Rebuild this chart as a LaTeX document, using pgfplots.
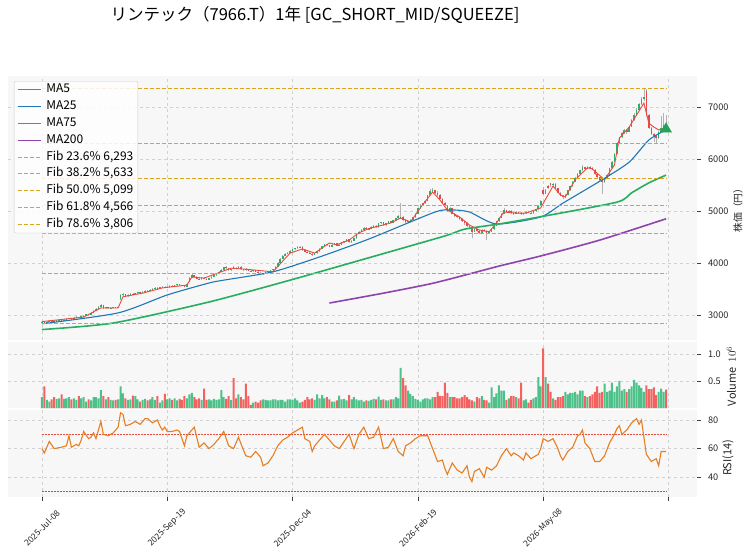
\documentclass[border=0pt]{standalone}
\usepackage{fontspec}
\setmainfont{Noto Sans CJK JP}
\usepackage{pgfplots}
\usepackage{pgfplotstable}
\usetikzlibrary{calc}
\pgfplotsset{compat=1.18}
\definecolor{ma5c}{HTML}{E74C3C}
\definecolor{ma25c}{HTML}{1F77B4}
\definecolor{ma75c}{HTML}{27AE60}
\definecolor{ma200c}{HTML}{8E44AD}
\definecolor{fibc}{HTML}{DAA520}
\definecolor{upc}{HTML}{2EAD6B}
\definecolor{dnc}{HTML}{E8474B}
\definecolor{volg}{HTML}{4EC08A}
\definecolor{volr}{HTML}{F4625F}
\definecolor{rsic}{HTML}{E67E22}
\definecolor{r30c}{HTML}{2E86AB}
\definecolor{trgc}{HTML}{27A05A}
\pgfplotstableread{
i o h l c v
0 2850 2890 2840 2860 0.20
1 2860 2875 2838 2845 0.40
2 2845 2880 2840 2870 0.15
3 2870 2900 2860 2890 0.12
4 2890 2905 2870 2880 0.16
5 2880 2895 2860 2870 0.20
6 2870 2905 2865 2895 0.17
7 2895 2920 2885 2905 0.18
8 2905 2915 2880 2890 0.25
9 2890 2920 2885 2910 0.17
10 2910 2935 2900 2925 0.18
11 2925 2950 2915 2935 0.20
12 2935 2945 2910 2920 0.16
13 2920 2955 2915 2945 0.18
14 2945 2975 2935 2960 0.15
15 2960 2970 2940 2950 0.22
16 2950 2985 2945 2975 0.18
17 2975 3000 2965 2990 0.20
18 2990 3020 2980 3010 0.12
19 3010 3025 2990 3000 0.16
20 3000 3050 2995 3040 0.14
21 3040 3090 3030 3080 0.20
22 3080 3130 3070 3120 0.20
23 3120 3165 3110 3150 0.18
24 3150 3210 3130 3190 0.33
25 3190 3200 3120 3130 0.22
26 3130 3160 3120 3145 0.16
27 3145 3155 3115 3125 0.20
28 3125 3145 3110 3135 0.15
29 3135 3160 3125 3150 0.14
30 3150 3160 3130 3140 0.15
31 3140 3170 3130 3160 0.16
32 3300 3400 3290 3380 0.40
33 3380 3420 3360 3400 0.27
34 3400 3410 3350 3360 0.18
35 3360 3400 3350 3390 0.15
36 3390 3420 3380 3410 0.16
37 3410 3420 3385 3395 0.23
38 3395 3430 3390 3420 0.22
39 3420 3450 3410 3440 0.16
40 3440 3450 3415 3425 0.12
41 3425 3460 3420 3450 0.15
42 3450 3480 3440 3470 0.17
43 3470 3480 3450 3460 0.14
44 3460 3500 3455 3490 0.16
45 3490 3520 3480 3505 0.20
46 3505 3535 3495 3520 0.15
47 3520 3530 3490 3500 0.22
48 3500 3540 3495 3530 0.10
49 3530 3560 3520 3545 0.14
50 3545 3555 3515 3525 0.26
51 3525 3550 3520 3540 0.16
52 3540 3570 3530 3560 0.18
53 3560 3570 3540 3550 0.15
54 3550 3580 3540 3570 0.18
55 3570 3600 3560 3590 0.14
56 3590 3600 3565 3575 0.17
57 3575 3585 3550 3560 0.15
58 3560 3570 3530 3540 0.22
59 3540 3610 3535 3600 0.18
60 3640 3740 3630 3720 0.25
61 3720 3780 3710 3760 0.28
62 3760 3770 3730 3740 0.20
63 3740 3750 3690 3700 0.16
64 3700 3720 3680 3690 0.18
65 3690 3730 3680 3720 0.15
66 3720 3730 3690 3700 0.36
67 3700 3710 3670 3680 0.15
68 3680 3720 3675 3710 0.16
69 3710 3750 3700 3740 0.14
70 3740 3770 3730 3760 0.17
71 3760 3800 3750 3790 0.15
72 3790 3840 3780 3830 0.16
73 3830 3880 3820 3870 0.33
74 3870 3930 3860 3920 0.20
75 3920 3940 3890 3900 0.17
76 3900 3910 3850 3860 0.22
77 3860 3890 3850 3880 0.15
78 3930 3940 3880 3910 0.55
79 3910 3920 3885 3895 0.18
80 3895 3940 3890 3930 0.25
81 3930 3940 3870 3880 0.20
82 3880 3890 3850 3860 0.16
83 3890 3900 3850 3870 0.45
84 3870 3880 3840 3850 0.22
85 3850 3860 3830 3840 0.06
86 3840 3870 3835 3860 0.10
87 3860 3865 3820 3830 0.12
88 3830 3840 3800 3810 0.10
89 3810 3820 3780 3790 0.14
90 3790 3810 3770 3800 0.16
91 3800 3830 3795 3820 0.15
92 3820 3850 3810 3840 0.14
93 3840 3870 3830 3860 0.14
94 3860 3890 3850 3880 0.16
95 3880 3940 3875 3930 0.16
96 3930 4010 3920 4000 0.14
97 4000 4090 3990 4080 0.15
98 4080 4150 4070 4140 0.15
99 4140 4190 4130 4180 0.12
100 4180 4215 4170 4200 0.16
101 4200 4245 4190 4230 0.16
102 4230 4275 4220 4260 0.15
103 4260 4295 4250 4280 0.18
104 4280 4320 4270 4300 0.14
105 4300 4330 4290 4310 0.10
106 4310 4320 4240 4250 0.12
107 4250 4260 4210 4220 0.15
108 4220 4235 4190 4200 0.20
109 4200 4210 4170 4180 0.16
110 4180 4190 4140 4160 0.18
111 4160 4200 4150 4190 0.15
112 4190 4240 4180 4230 0.25
113 4230 4280 4220 4270 0.18
114 4270 4330 4260 4320 0.24
115 4320 4370 4310 4360 0.18
116 4360 4370 4330 4340 0.20
117 4340 4350 4300 4310 0.16
118 4310 4360 4300 4350 0.12
119 4350 4390 4340 4380 0.12
120 4380 4390 4320 4330 0.14
121 4330 4360 4320 4350 0.23
122 4350 4410 4340 4400 0.16
123 4400 4430 4390 4420 0.17
124 4420 4470 4410 4460 0.14
125 4460 4470 4390 4400 0.24
126 4400 4440 4390 4430 0.16
127 4430 4490 4420 4480 0.20
128 4480 4570 4470 4560 0.16
129 4560 4610 4550 4600 0.14
130 4600 4650 4590 4640 0.15
131 4640 4695 4630 4680 0.12
132 4680 4690 4640 4650 0.14
133 4650 4670 4635 4660 0.13
134 4660 4710 4650 4700 0.15
135 4700 4735 4690 4720 0.17
136 4720 4730 4680 4690 0.16
137 4690 4770 4680 4760 0.21
138 4760 4790 4750 4780 0.15
139 4780 4790 4720 4730 0.16
140 4730 4770 4720 4760 0.14
141 4760 4810 4750 4800 0.14
142 4800 4810 4760 4770 0.16
143 4770 4830 4760 4820 0.16
144 4820 4870 4810 4860 0.20
145 4860 4920 4850 4900 0.18
146 4850 5150 4840 4880 0.74
147 4880 4900 4810 4820 0.55
148 4820 4840 4770 4780 0.42
149 4780 4810 4760 4800 0.32
150 4800 4840 4790 4830 0.26
151 4830 4890 4820 4880 0.22
152 4880 4960 4870 4950 0.17
153 4950 5060 4940 5050 0.15
154 5050 5130 5040 5120 0.12
155 5120 5160 5100 5150 0.16
156 5150 5210 5140 5200 0.18
157 5200 5310 5190 5300 0.18
158 5300 5420 5290 5380 0.16
159 5380 5440 5360 5400 0.20
160 5400 5410 5330 5350 0.20
161 5350 5380 5290 5300 0.30
162 5300 5320 5230 5240 0.22
163 5240 5250 5140 5150 0.22
164 5150 5170 5090 5100 0.47
165 5100 5110 4980 5000 0.28
166 5000 5080 4990 5050 0.20
167 5050 5060 4940 4950 0.20
168 4950 4970 4890 4900 0.20
169 4900 4920 4860 4880 0.18
170 4880 4890 4830 4850 0.18
171 4850 4860 4780 4800 0.20
172 4800 4810 4740 4760 0.24
173 4760 4780 4700 4720 0.20
174 4720 4730 4670 4690 0.16
175 4690 4700 4480 4600 0.14
176 4600 4670 4590 4650 0.12
177 4650 4660 4600 4620 0.20
178 4620 4630 4560 4580 0.18
179 4580 4650 4570 4640 0.22
180 4640 4650 4600 4620 0.15
181 4620 4630 4450 4570 0.14
182 4570 4610 4560 4600 0.10
183 4600 4660 4590 4650 0.38
184 4650 4730 4640 4720 0.20
185 4720 4810 4710 4800 0.27
186 4800 4880 4790 4870 0.42
187 4870 4960 4860 4950 0.32
188 4950 5050 4940 5010 0.32
189 5010 5020 4970 4990 0.15
190 4990 5020 4980 5000 0.18
191 5000 5010 4950 4960 0.22
192 4960 4980 4930 4950 0.22
193 4950 4995 4940 4980 0.20
194 4980 4990 4950 4970 0.18
195 4970 4980 4930 4940 0.47
196 4940 4970 4930 4960 0.14
197 4960 5000 4950 4990 0.16
198 4990 5000 4960 4970 0.10
199 4970 4985 4950 4960 0.15
200 4960 5010 4950 5000 0.18
201 5000 5040 4990 5030 0.20
202 5030 5110 5020 5100 0.57
203 5100 5220 5090 5200 0.40
204 5400 5460 5300 5330 1.10
205 5330 5420 5320 5400 0.57
206 5480 5500 5420 5450 0.45
207 5530 5540 5470 5500 0.30
208 5500 5540 5480 5520 0.18
209 5520 5530 5430 5440 0.15
210 5440 5450 5340 5350 0.20
211 5350 5360 5280 5290 0.20
212 5290 5300 5240 5260 0.22
213 5260 5320 5250 5310 0.30
214 5310 5410 5300 5400 0.25
215 5400 5490 5390 5480 0.28
216 5480 5570 5470 5560 0.28
217 5560 5650 5550 5640 0.30
218 5640 5730 5630 5720 0.25
219 5720 5790 5710 5780 0.32
220 5780 5880 5770 5840 0.32
221 5840 5850 5790 5810 0.22
222 5810 5870 5800 5850 0.20
223 5850 5860 5810 5830 0.22
224 5830 5840 5780 5790 0.25
225 5790 5800 5700 5720 0.30
226 5720 5730 5630 5650 0.40
227 5650 5660 5580 5600 0.28
228 5600 5610 5330 5560 0.30
229 5560 5630 5540 5620 0.45
230 5620 5710 5610 5700 0.30
231 5700 5830 5690 5820 0.32
232 5820 5960 5810 5950 0.47
233 5950 6110 5940 6100 0.30
234 6100 6320 6090 6300 0.40
235 6300 6430 6290 6420 0.50
236 6420 6510 6400 6500 0.32
237 6500 6580 6480 6560 0.35
238 6560 6570 6480 6520 0.30
239 6520 6640 6510 6620 0.35
240 6620 6770 6610 6750 0.40
241 6750 6880 6740 6850 0.52
242 6850 6980 6830 6950 0.47
243 6950 7080 6930 7050 0.42
244 7050 7200 7030 7150 0.37
245 7150 7360 7120 7200 0.30
246 7300 7340 6800 6850 0.42
247 6850 6870 6580 6600 0.35
248 6600 6620 6460 6480 0.35
249 6480 6500 6330 6450 0.38
250 6450 6470 6300 6400 0.24
251 6400 6540 6390 6520 0.30
252 6520 6820 6510 6600 0.36
253 6600 6880 6580 6650 0.30
254 6650 6850 6560 6580 0.34
}\ohlc
\pgfplotsset{
  panel/.style={scale only axis, width=689pt, xmin=-13.8, xmax=266.6,
    axis background/.style={fill=black!3},
    axis line style={draw=none},
    xmajorgrids, ymajorgrids,
    grid style={dashed, black!18, line width=0.5pt},
    xtick={0,51,102,153,204,255},
    ytick pos=right, yticklabel pos=right,
    tick align=outside, major tick length=4pt,
    tick style={black!75, line width=0.6pt},
    scaled y ticks=false,
    /pgf/number format/assume math mode=true,
    /pgf/number format/1000 sep={},
    ticklabel style={font=\fontsize{9.2}{11}\selectfont, text=black!85},
    yticklabel style={anchor=west, xshift=3.5pt},
    clip=false},
  fib/.style={fibc, line width=1.1pt, dash pattern=on 4pt off 2pt},
}
\begin{document}
\begin{tikzpicture}
% ---------------- RSI panel
\begin{axis}[panel, name=rsi, at={(0pt,0pt)}, anchor=south west, height=87pt,
  ymin=26.2, ymax=87, ytick={40,60,80},
  xtick pos=bottom,
  xticklabels={2025-Jul-08,2025-Sep-19,2025-Dec-04,2026-Feb-19,2026-May-08,{}},
  xticklabel style={yshift=-27pt, rotate=45, anchor=center, font=\fontsize{8.5}{10}\selectfont},
  ylabel={RSI(14)},
  every axis y label/.style={at={(rel axis cs:1.045,0.45)}, anchor=center, rotate=90, font=\fontsize{11}{13}\selectfont, text=black!85},
]
\addplot[ma5c, line width=0.6pt, dash pattern=on 2pt off 1pt] coordinates {(0,70)(254,70)};
\addplot[r30c, line width=0.6pt, dash pattern=on 2pt off 1pt] coordinates {(0,30)(254,30)};
\addplot[rsic, line width=1.1pt] coordinates {(0,60)(1,57)(3,65)(5,60)(8,61)(10,62)(11,69)(12,61)(14,63)(15,62)(16,66)(17,72)(19,67)(20,68)(21,71)(22,67)(24,79)(25,70)(27,69)(29,71)(31,75)(32,85)(33,84)(34,76)(36,77)(38,79)(40,77)(42,81)(43,81)(45,78)(47,80)(48,76)(49,73)(50,75)(51,72)(53,72)(55,73)(56,72)(58,62)(59,69)(62,75)(63,68)(64,61)(66,64)(68,60)(70,63)(72,67)(74,72)(76,62)(78,60)(80,68)(82,59)(83,55)(85,54)(87,58)(89,54)(90,48)(92,50)(94,55)(96,62)(98,66)(100,68)(102,71)(104,73)(106,75)(107,67)(109,65)(110,58)(111,62)(113,66)(115,70)(117,66)(119,62)(121,60)(123,65)(125,70)(127,60)(129,70)(131,75)(133,67)(135,68)(137,75)(139,60)(141,61)(143,67)(145,58)(147,55)(148,62)(150,64)(152,67)(154,69)(157,69)(159,60)(161,51)(163,52)(164,46)(165,42)(167,50)(169,45)(171,43)(173,48)(174,40)(175,37)(176,44)(178,46)(180,40)(181,47)(183,45)(185,48)(187,55)(189,60)(191,55)(192,57)(194,55)(196,52)(197,57)(199,53)(201,55)(202,56)(203,60)(204,67)(206,65)(208,67)(210,60)(211,55)(212,52)(214,58)(216,61)(218,69)(219,70)(220,73)(221,64)(223,60)(225,51)(227,51)(229,55)(231,64)(233,70)(234,74)(235,76)(236,70)(238,73)(240,78)(242,81)(243,77)(244,80)(246,56)(248,51)(250,53)(251,48)(252,58)(254,58)};
\end{axis}
% ---------------- volume panel
\begin{axis}[panel, name=vol, at={($(rsi.north west)+(0pt,2pt)$)}, anchor=south west, height=66pt,
  ymin=0, ymax=1.22, ytick={0.5,1.0}, yticklabels={0.5,1.0},
  xmajorticks=false, xticklabels={},
  ylabel={Volume\ \ $10^{6}$},
  every axis y label/.style={at={(rel axis cs:1.05,0.48)}, anchor=center, rotate=90, font=\fontsize{11}{13}\selectfont, text=black!85},
]
\addplot[ybar, bar width=2pt, bar shift=0pt, fill=volg, draw=none]
  table[x=i, y expr={(\thisrow{c}>=\thisrow{o})*\thisrow{v}}] {\ohlc};
\addplot[ybar, bar width=2pt, bar shift=0pt, fill=volr, draw=none]
  table[x=i, y expr={(\thisrow{c}<\thisrow{o})*\thisrow{v}}] {\ohlc};
\end{axis}
% ---------------- main price panel
\begin{axis}[panel, name=main, at={($(vol.north west)+(0pt,2pt)$)}, anchor=south west, height=264pt,
  ymin=2519, ymax=7596, ytick={3000,4000,5000,6000,7000},
  xmajorticks=false, xticklabels={},
  ylabel={株価（円）},
  every axis y label/.style={at={(rel axis cs:1.0595,0.5)}, anchor=center, rotate=90, font=\fontsize{9.8}{11}\selectfont, text=black!85},
  legend style={at={(0.0087,0.981)}, anchor=north west, draw=black!20, rounded corners=2pt,
    fill=white, fill opacity=0.85, text opacity=1, font=\fontsize{12}{13}\selectfont,
    inner xsep=3pt, inner ysep=2pt, row sep=3.4pt, column sep=3pt,
    nodes={inner sep=1.5pt, text height=8.2pt, text depth=2.2pt}},
  legend cell align=left,
  legend image code/.code={\draw[#1] (0pt,0pt) -- (23pt,0pt);},
]
% candles: wicks and bodies drawn as vertical segments (quiver with u=0)
\addplot[forget plot, mark=none, draw=black!30, line width=0.5pt, quiver={u=0, v={\thisrow{h}-\thisrow{l}}}]
  table[x=i, y=l] {\ohlc};
\addplot[forget plot, mark=none, draw=upc, line width=1.6pt, quiver={u=0, v={max(\thisrow{c}-\thisrow{o},0)}}]
  table[x=i, y=o] {\ohlc};
\addplot[forget plot, mark=none, draw=dnc, line width=1.6pt, quiver={u=0, v={max(\thisrow{o}-\thisrow{c},0)}}]
  table[x=i, y=c] {\ohlc};
\addplot[forget plot, ma5c, line width=0.9pt] coordinates {(0,2873)(17,2960)(24,3135)(31,3135)(33,3350)(41,3420)(49,3520)(59,3575)(61,3730)(66,3710)(77,3900)(83,3880)(94,3830)(101,4190)(106,4270)(111,4190)(117,4385)(120,4350)(125,4440)(129,4580)(133,4660)(142,4770)(146,4865)(150,4790)(154,5060)(159,5365)(162,5210)(165,5020)(170,4885)(174,4730)(178,4635)(182,4600)(185,4770)(188,4980)(193,4960)(197,4960)(203,5060)(208,5480)(211,5310)(213,5270)(217,5600)(222,5830)(224,5810)(229,5600)(233,5885)(235,6400)(239,6615)(245,7075)(247,6690)(249,6615)(251,6560)(254,6600)};
\addplot[forget plot, ma25c, line width=1.1pt, smooth, tension=0.4] coordinates {(0,2830)(31,3040)(51,3385)(68,3615)(74,3670)(94,3830)(112,4100)(133,4460)(160,4980)(167,5020)(174,4980)(185,4750)(203,4885)(212,5150)(228,5600)(239,5940)(247,6365)(254,6560)};
\addplot[forget plot, ma75c, line width=1.6pt, smooth, tension=0.4] coordinates {(0,2720)(29,2845)(68,3250)(101,3670)(133,4100)(164,4520)(172,4650)(186,4750)(203,4890)(234,5170)(240,5350)(247,5540)(254,5690)};
\addplot[forget plot, ma200c, line width=1.6pt, smooth, tension=0.4] coordinates {(117,3230)(139,3420)(160,3620)(186,3940)(203,4135)(227,4440)(254,4850)};
\addplot[forget plot, fib] coordinates {(0,6293)(254,6293)};
\addplot[forget plot, fib] coordinates {(0,5633)(254,5633)};
\addplot[forget plot, fib] coordinates {(0,5099)(254,5099)};
\addplot[forget plot, fib] coordinates {(0,4566)(254,4566)};
\addplot[forget plot, fib] coordinates {(0,3806)(254,3806)};
\addplot[forget plot, fib] coordinates {(0,7360)(254,7360)};
\addplot[forget plot, fib] coordinates {(0,2838)(254,2838)};
\addplot[forget plot, only marks, mark=triangle*, mark size=6.3pt, color=trgc] coordinates {(254,6577)};
\addlegendimage{ma5c, line width=0.9pt}\addlegendentry{MA5}
\addlegendimage{ma25c, line width=1.1pt}\addlegendentry{MA25}
\addlegendimage{ma75c, line width=1.6pt}\addlegendentry{MA75}
\addlegendimage{ma200c, line width=1.6pt}\addlegendentry{MA200}
\addlegendimage{fib}\addlegendentry{Fib 23.6\% 6,293}
\addlegendimage{fib}\addlegendentry{Fib 38.2\% 5,633}
\addlegendimage{fib}\addlegendentry{Fib 50.0\% 5,099}
\addlegendimage{fib}\addlegendentry{Fib 61.8\% 4,566}
\addlegendimage{fib}\addlegendentry{Fib 78.6\% 3,806}
\end{axis}
\node[font=\fontsize{16.5}{19}\selectfont, anchor=center] at ($(rsi.south west)+(307pt,482pt)$) {リンテック（7966.T）1年 [GC\_SHORT\_MID/SQUEEZE]};
\pgfresetboundingbox
\path[use as bounding box] ($(rsi.south west)+(-8pt,-61pt)$) rectangle ++(752pt,558pt);
\end{tikzpicture}
\end{document}
